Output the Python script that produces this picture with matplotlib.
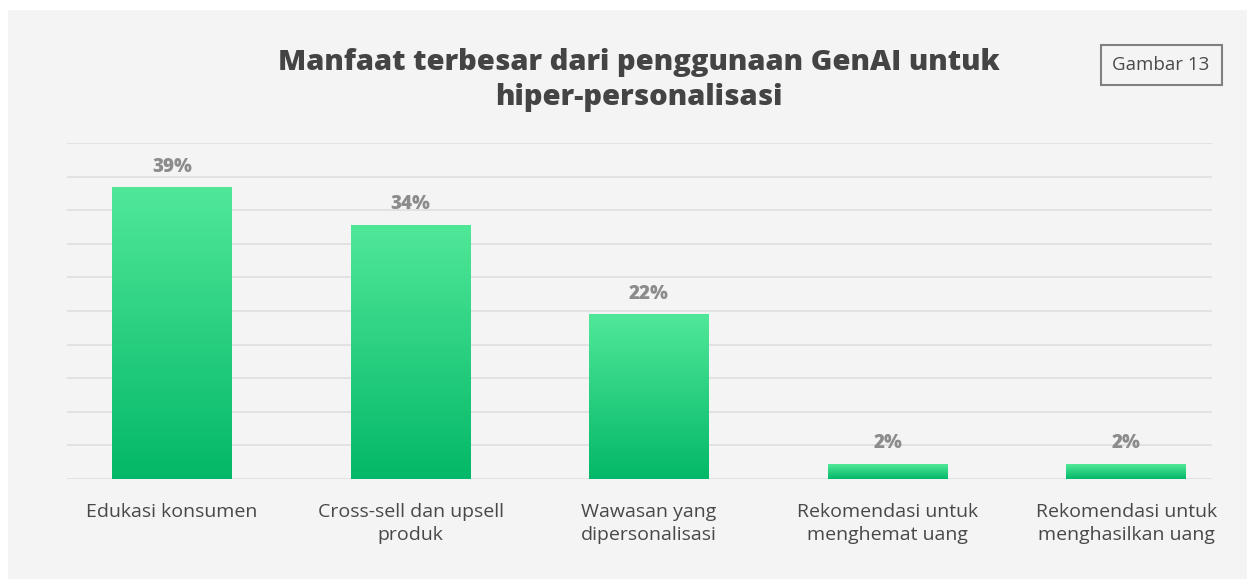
import numpy as np
import matplotlib.pyplot as plt
from matplotlib.patches import Rectangle
from matplotlib.colors import LinearSegmentedColormap

categories = [
    "Edukasi konsumen",
    "Cross-sell dan upsell\nproduk",
    "Wawasan yang\ndipersonalisasi",
    "Rekomendasi untuk\nmenghemat uang",
    "Rekomendasi untuk\nmenghasilkan uang",
]
shares = [39, 34, 22, 2, 2]
title = "Manfaat terbesar dari penggunaan GenAI untuk\nhiper-personalisasi"
badge = "Gambar 13"

FONT = "Open Sans"
TOP_GREEN = "#50e898"
BOTTOM_GREEN = "#03b868"

fig = plt.figure(figsize=(12.47, 5.79), dpi=100, facecolor="white")

# grey panel behind everything
panel = Rectangle((8 / 1247, 0), 1, 1 - 10 / 579, transform=fig.transFigure,
                  facecolor="#f4f4f4", edgecolor="none", zorder=-10)
fig.add_artist(panel)

# axes placed in pixel terms: x 67..1212, y 143(top grid)..479(baseline)
ax = fig.add_axes([67 / 1247, 1 - 479 / 579, (1212 - 67) / 1247, (479 - 143) / 579])
ax.set_facecolor("none")
ax.set_zorder(1)

x = np.arange(len(categories))
width = 0.5
ymax = 45

# horizontal grid
for g in np.linspace(0, ymax, 11):
    ax.axhline(g, color="#e1e1e1", lw=1.3, zorder=1)

# bars with vertical gradient
cmap = LinearSegmentedColormap.from_list("grn", [BOTTOM_GREEN, TOP_GREEN])
grad = np.linspace(0, 1, 256).reshape(-1, 1)
bars = ax.bar(x, shares, width=width, color=TOP_GREEN, zorder=2)
for b in bars:
    x0, h = b.get_x(), b.get_height()
    ax.imshow(grad, cmap=cmap, origin="lower", aspect="auto",
              extent=(x0, x0 + b.get_width(), 0, h), zorder=3)
    ax.annotate(f"{h:g}%", (x0 + b.get_width() / 2, h), xytext=(0, 8),
                textcoords="offset points", ha="center", va="bottom",
                fontsize=13.5, fontweight="heavy", color="#8c8c8c", family=FONT)
ax.set_xlim(-0.44, 4.36)
ax.set_ylim(0, ymax)

ax.set_xticks(x)
ax.set_xticklabels(categories, fontsize=14, color="#484848", family=FONT,
                   linespacing=1.4)
ax.tick_params(axis="x", length=0, pad=17)
ax.set_yticks([])
for s in ax.spines.values():
    s.set_visible(False)

fig.text(639 / 1247, 1 - 80 / 579, title, ha="center", va="center",
         fontsize=21, fontweight="heavy", color="#444444", family=FONT,
         linespacing=1.25)

fig.text(1161 / 1247, 1 - 65 / 579, badge, ha="center", va="center",
         fontsize=13.5, color="#4a4a4a", family=FONT)
fig.add_artist(Rectangle((1101 / 1247, 1 - 85 / 579), 121 / 1247, 40 / 579,
                         transform=fig.transFigure, facecolor="none",
                         edgecolor="#808080", lw=1.5, zorder=3))

fig.savefig("out.png", dpi=100, facecolor="white")
